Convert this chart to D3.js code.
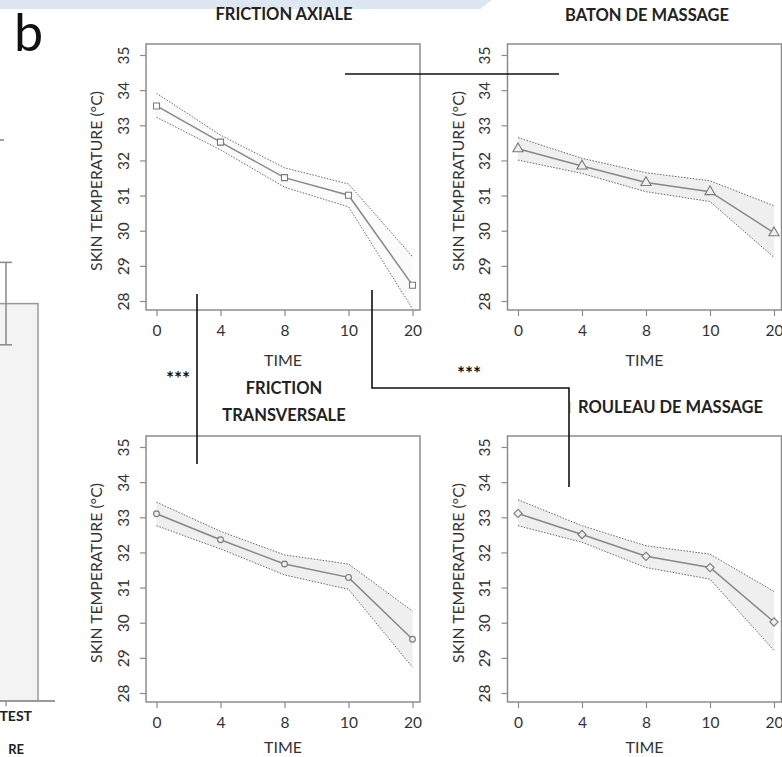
<!DOCTYPE html>
<html>
<head>
<meta charset="utf-8">
<script src="https://cdn.jsdelivr.net/npm/d3@7"></script>
<style>
body { margin: 0; background: #fff; }
text { font-family: Lato, "Open Sans", sans-serif; }
</style>
</head>
<body>
<div id="chart"></div>
<script>
// time points and y ticks shared by the four panels
var times = ["0", "4", "8", "10", "20"];
var yTicks = [28, 29, 30, 31, 32, 33, 34, 35];

var axialeMean  = [33.55, 32.52, 31.51, 31.01, 28.45];
var axialeUpper = [33.91, 32.72, 31.79, 31.33, 29.26];
var axialeLower = [33.23, 32.30, 31.24, 30.68, 27.78];

var batonMean  = [32.33, 31.84, 31.37, 31.11, 29.94];
var batonUpper = [32.65, 32.06, 31.65, 31.42, 30.71];
var batonLower = [32.01, 31.63, 31.11, 30.83, 29.24];

var transMean  = [33.10, 32.36, 31.67, 31.29, 29.53];
var transUpper = [33.43, 32.60, 31.93, 31.67, 30.33];
var transLower = [32.76, 32.10, 31.36, 30.95, 28.73];

var rouleauMean  = [33.11, 32.51, 31.89, 31.57, 30.02];
var rouleauUpper = [33.50, 32.76, 32.19, 31.95, 30.89];
var rouleauLower = [32.76, 32.29, 31.57, 31.24, 29.21];

// cut-off bar chart on the far left (panel a)
var leftCategories = ["TEST"];
var leftMean = [27.0];
var leftErr = [2.8];

var svgWidth = 782;
var svgHeight = 757;

var svg = d3.select("#chart")
  .append("svg")
  .attr("width", svgWidth)
  .attr("height", svgHeight);

// light blue strip at the very top
svg.append("path")
  .attr("d", "M0,0 H492 L480,9 H0 Z")
  .attr("fill", "#dde7f2");

svg.append("text")
  .attr("x", 14)
  .attr("y", 51)
  .attr("font-size", 52)
  .attr("fill", "#111")
  .text("b");

// ---- left bar (partially off the picture)
var leftY = d3.scaleLinear().domain([0, 32]).range([701, 230]);

svg.selectAll("rect.leftbar")
  .data(leftCategories)
  .enter()
  .append("rect")
  .attr("class", "leftbar")
  .attr("x", -50)
  .attr("y", (d, i) => leftY(leftMean[i]))
  .attr("width", 88)
  .attr("height", (d, i) => leftY(0) - leftY(leftMean[i]))
  .attr("fill", "#f3f3f3")
  .attr("stroke", "#999")
  .attr("stroke-width", 1.5);

var ebX = 6;
leftCategories.forEach(function(d, i) {
  var hi = leftY(leftMean[i] + leftErr[i]);
  var lo = leftY(leftMean[i] - leftErr[i]);
  svg.append("line").attr("x1", ebX).attr("x2", ebX).attr("y1", hi).attr("y2", lo)
    .attr("stroke", "#888").attr("stroke-width", 1.5);
  svg.append("line").attr("x1", ebX - 6).attr("x2", ebX + 6).attr("y1", hi).attr("y2", hi)
    .attr("stroke", "#888").attr("stroke-width", 1.5);
  svg.append("line").attr("x1", ebX - 6).attr("x2", ebX + 6).attr("y1", lo).attr("y2", lo)
    .attr("stroke", "#888").attr("stroke-width", 1.5);
});

svg.append("line").attr("x1", 0).attr("x2", 55).attr("y1", leftY(0)).attr("y2", leftY(0))
  .attr("stroke", "#999").attr("stroke-width", 2);
svg.append("line").attr("x1", ebX).attr("x2", ebX).attr("y1", leftY(0)).attr("y2", leftY(0) + 5)
  .attr("stroke", "#999").attr("stroke-width", 1.5);
svg.append("text").attr("x", 32).attr("y", 721).attr("text-anchor", "end")
  .attr("font-size", 14).attr("font-weight", "bold").attr("fill", "#222").text(leftCategories[0]);
svg.append("text").attr("x", 24).attr("y", 754).attr("text-anchor", "end")
  .attr("font-size", 13).attr("font-weight", "bold").attr("fill", "#222").text("RE");
svg.append("line").attr("x1", 0).attr("x2", 4).attr("y1", 140).attr("y2", 140)
  .attr("stroke", "#444").attr("stroke-width", 1);

// ---- the four panels
var panels = [
  { title: ["FRICTION AXIALE"], mean: axialeMean, upper: axialeUpper, lower: axialeLower,
    symbol: d3.symbolSquare, size: 36, rot: 0, band: "#fbfbfb",
    left: 146, top: 44, titleX: 284, titleY: [20], anchor: "middle", timeY: 322 },
  { title: ["BATON DE MASSAGE"], mean: batonMean, upper: batonUpper, lower: batonLower,
    symbol: d3.symbolTriangle, size: 45, rot: 0, band: "#efefef",
    left: 507.5, top: 44, titleX: 647, titleY: [21], anchor: "middle", timeY: 322 },
  { title: ["FRICTION", "TRANSVERSALE"], mean: transMean, upper: transUpper, lower: transLower,
    symbol: d3.symbolCircle, size: 26, rot: 0, band: "#efefef",
    left: 146, top: 436, titleX: 284, titleY: [394, 421], anchor: "middle", timeY: 317 },
  { title: ["ROULEAU DE MASSAGE"], mean: rouleauMean, upper: rouleauUpper, lower: rouleauLower,
    symbol: d3.symbolSquare, size: 34, rot: 45, band: "#efefef",
    left: 507.5, top: 436, titleX: 578, titleY: [413], anchor: "start", timeY: 317 }
];

var pw = 274;
var ph = 266;

panels.forEach(function(p, k) {
  var g = svg.append("g").attr("transform", `translate(${p.left}, ${p.top})`);

  var x = d3.scalePoint().domain(times).range([10.5, 266.5]);
  var y = d3.scaleLinear().domain([28, 35]).range([257, 11]);

  var clipId = "clip" + k;
  g.append("clipPath").attr("id", clipId)
    .append("rect").attr("width", pw).attr("height", ph);

  var plot = g.append("g").attr("clip-path", `url(#${clipId})`);

  var rows = times.map((t, i) => ({ t: t, m: p.mean[i], u: p.upper[i], l: p.lower[i] }));

  // confidence band
  plot.append("path")
    .datum(rows)
    .attr("fill", p.band)
    .attr("d", d3.area().x(d => x(d.t)).y0(d => y(d.l)).y1(d => y(d.u)));

  plot.append("path")
    .datum(rows)
    .attr("fill", "none").attr("stroke", "#666").attr("stroke-width", 1)
    .attr("stroke-dasharray", "1.5,1.5")
    .attr("d", d3.line().x(d => x(d.t)).y(d => y(d.u)));
  plot.append("path")
    .datum(rows)
    .attr("fill", "none").attr("stroke", "#666").attr("stroke-width", 1)
    .attr("stroke-dasharray", "1.5,1.5")
    .attr("d", d3.line().x(d => x(d.t)).y(d => y(d.l)));

  // mean line
  plot.append("path")
    .datum(rows)
    .attr("fill", "none").attr("stroke", "#888").attr("stroke-width", 1.5)
    .attr("d", d3.line().x(d => x(d.t)).y(d => y(d.m)));

  plot.selectAll("path.pt")
    .data(rows)
    .enter()
    .append("path")
    .attr("class", "pt")
    .attr("transform", d => `translate(${x(d.t)}, ${y(d.m)}) rotate(${p.rot})`)
    .attr("d", d3.symbol().type(p.symbol).size(p.size))
    .attr("fill", k == 0 ? "#fff" : p.band)
    .attr("stroke", "#7a7a7a")
    .attr("stroke-width", 1.1);

  // frame
  g.append("rect")
    .attr("width", pw).attr("height", ph)
    .attr("fill", "none").attr("stroke", "#8c8c8c").attr("stroke-width", 1.5);

  // axes
  var xAxis = g.append("g")
    .attr("transform", `translate(0, ${ph})`)
    .call(d3.axisBottom(x).tickSize(6).tickPadding(9));
  var yAxis = g.append("g")
    .call(d3.axisLeft(y).tickValues(yTicks).tickFormat(d3.format("d")).tickSize(6).tickPadding(4));

  [xAxis, yAxis].forEach(function(a) {
    a.select(".domain").remove();
    a.selectAll("line").attr("stroke", "#8c8c8c").attr("stroke-width", 1.2);
    a.selectAll("text").attr("font-size", 15.5).attr("fill", "#333")
      .attr("font-family", "Lato, 'Open Sans', sans-serif");
  });

  yAxis.selectAll("text")
    .attr("text-anchor", "middle")
    .attr("dy", null)
    .attr("x", null)
    .attr("transform", "translate(-23, 0) rotate(-90)")
    .attr("y", 5.5);

  g.append("text")
    .attr("x", 137)
    .attr("y", p.timeY)
    .attr("text-anchor", "middle")
    .attr("font-size", 16)
    .attr("fill", "#333")
    .text("TIME");

  g.append("text")
    .attr("transform", `translate(-44, ${ph / 2 + 4}) rotate(-90)`)
    .attr("text-anchor", "middle")
    .attr("font-size", 15.8)
    .attr("fill", "#333")
    .text("SKIN TEMPERATURE (°C)");

  p.title.forEach(function(t, j) {
    svg.append("text")
      .attr("x", p.titleX)
      .attr("y", p.titleY[j])
      .attr("text-anchor", p.anchor)
      .attr("font-size", 16.5)
      .attr("font-weight", "bold")
      .attr("fill", "#222")
      .text(t);
  });
});

// small tan mark left of ROULEAU title
svg.append("line").attr("x1", 570).attr("x2", 570).attr("y1", 402).attr("y2", 413)
  .attr("stroke", "#e0b878").attr("stroke-width", 1.2);

// significance brackets
var ink = "#111";
svg.append("path").attr("d", "M345,74 H559").attr("fill", "none").attr("stroke", ink).attr("stroke-width", 1.6);
svg.append("path").attr("d", "M197,294 V464").attr("fill", "none").attr("stroke", ink).attr("stroke-width", 1.6);
svg.append("path").attr("d", "M372,290 V388 H569 V487").attr("fill", "none").attr("stroke", ink).attr("stroke-width", 1.6);

svg.append("text").attr("x", 178).attr("y", 385).attr("text-anchor", "middle")
  .attr("font-size", 19).attr("font-weight", "bold").attr("fill", ink).text("***");
svg.append("text").attr("x", 469).attr("y", 380).attr("text-anchor", "middle")
  .attr("font-size", 19).attr("font-weight", "bold").attr("fill", ink).text("***");
</script>
</body>
</html>
